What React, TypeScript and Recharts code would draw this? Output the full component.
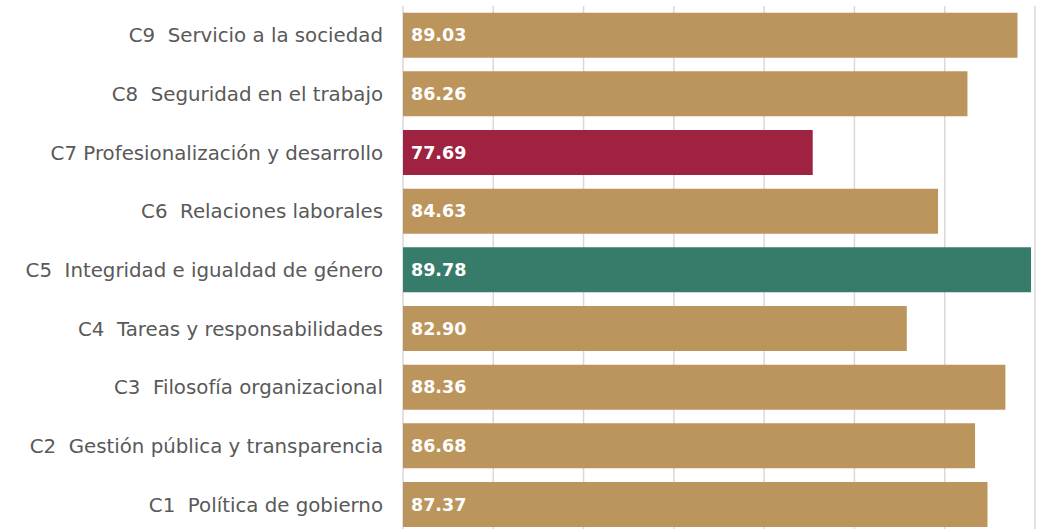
import React from "react";
import { BarChart, Bar, XAxis, YAxis, CartesianGrid, Cell, LabelList } from "recharts";

const categories = [
  "C9\u00A0 Servicio a la sociedad",
  "C8\u00A0 Seguridad en el trabajo",
  "C7 Profesionalización y desarrollo",
  "C6\u00A0 Relaciones laborales",
  "C5\u00A0 Integridad e igualdad de género",
  "C4\u00A0 Tareas y responsabilidades",
  "C3\u00A0 Filosofía organizacional",
  "C2\u00A0 Gestión pública y transparencia",
  "C1\u00A0 Política de gobierno",
];
const scores = [89.03, 86.26, 77.69, 84.63, 89.78, 82.9, 88.36, 86.68, 87.37];
const barColors = ["#BC955C", "#BC955C", "#9F2241", "#BC955C", "#377C6B", "#BC955C", "#BC955C", "#BC955C", "#BC955C"];
const xTicks = [55, 60, 65, 70, 75, 80, 85, 90];

const data = categories.map((name, i) => ({ name, score: scores[i] }));

const CategoryTick = (props: any) => {
  const { x, y, payload } = props;
  return (
    <text x={x} y={y} dy={7} textAnchor="end" fill="#595959" fontSize={19.8} fontFamily="DejaVu Sans">
      {payload.value}
    </text>
  );
};

export default function App() {
  return (
    <div style={{ position: "fixed", left: 0, top: 0, width: 1048, height: 529, overflow: "hidden", background: "#fff" }}>
      <BarChart
        width={1048}
        height={540}
        data={data}
        layout="vertical"
        margin={{ top: 6, right: 13, bottom: 6, left: 0 }}
        barCategoryGap="11.4%"
      >
        <CartesianGrid horizontal={false} stroke="#d9d9d9" strokeWidth={1.5} />
        <XAxis type="number" domain={[55, 90]} ticks={xTicks} hide allowDataOverflow />
        <YAxis
          type="category"
          dataKey="name"
          width={403}
          axisLine={false}
          tickLine={false}
          tickSize={0}
          tickMargin={20}
          tick={<CategoryTick />}
          interval={0}
        />
        <Bar dataKey="score" isAnimationActive={false}>
          {data.map((d, i) => (
            <Cell key={d.name} fill={barColors[i]} />
          ))}
          <LabelList
            dataKey="score"
            position="insideLeft"
            offset={8}
            formatter={(v: any) => Number(v).toFixed(2)}
            fill="#ffffff"
            fontSize={17.5}
            fontWeight="bold"
            fontFamily="DejaVu Sans"
          />
        </Bar>
      </BarChart>
    </div>
  );
}
